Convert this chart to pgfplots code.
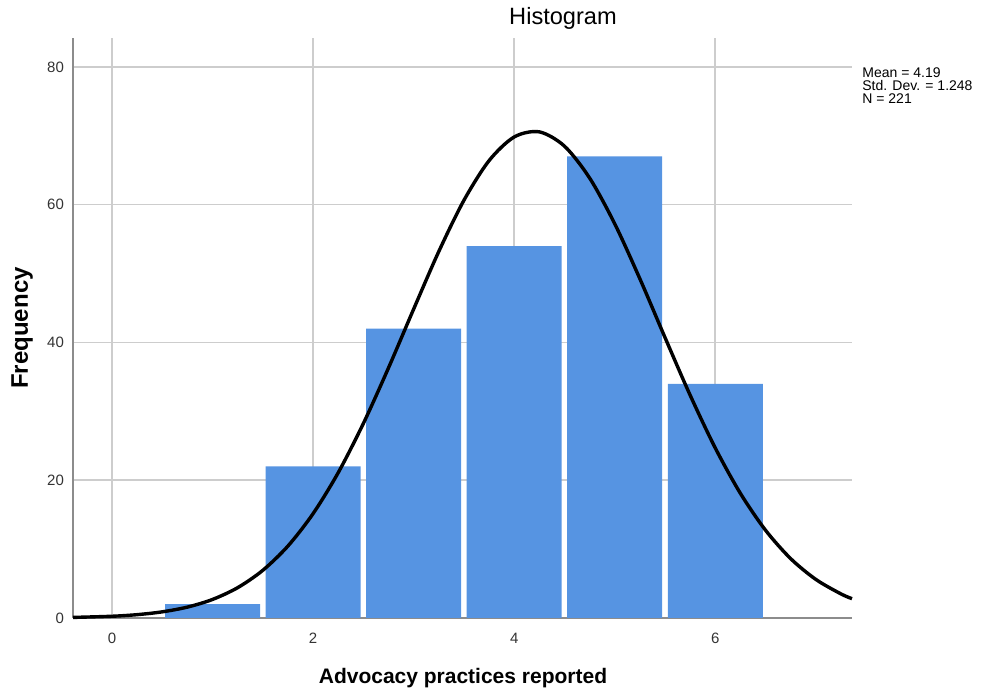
\documentclass[border=0pt]{standalone}
\usepackage{pgfplots}
\pgfplotsset{compat=1.18}
\usepackage{fontspec}
\setmainfont{Liberation Sans}
\definecolor{barblue}{RGB}{86,148,226}
\definecolor{gridgray}{RGB}{205,205,205}
\definecolor{axisgray}{RGB}{140,140,140}
\begin{document}
\begin{tikzpicture}[x=1pt,y=1pt]
\useasboundingbox (-36.5,-38.5) rectangle (454.5,309);
\begin{axis}[
  at={(0,0)}, anchor=south west,
  scale only axis,
  width=389.5pt, height=290pt,
  xmin=-0.388, xmax=7.36,
  ymin=0, ymax=84.2,
  axis x line*=bottom, axis y line*=left,
  axis line style={axisgray, line width=0.6pt, -},
  xtick={0,2,4,6}, ytick={0,20,40,60,80},
  major tick length=0pt,
  grid=major,
  major grid style={gridgray, line width=0.8pt},
  /pgf/number format/assume math mode=true,
  tick label style={font=\fontsize{7.5}{9}\selectfont, text=black!80},
  xticklabel style={yshift=-4pt},
  yticklabel style={xshift=-1pt},
  clip=false,
]
\addplot[ybar, bar width=0.945, fill=barblue, draw=none, forget plot]
  coordinates {(1,2) (2,22) (3,42) (4,54) (5,67) (6,34)};
\addplot[black, line width=1.7pt, smooth, no marks] coordinates {
(-0.388,0.084) (0,0.252) (0.25,0.484) (0.5,0.893) (0.75,1.582) (1,2.693)
(1.25,4.403) (1.5,6.923) (1.75,10.45) (2,15.15) (2.25,21.10) (2.5,28.24)
(2.75,36.31) (3,44.84) (3.25,53.20) (3.5,60.63) (3.75,66.39) (4,69.83)
(4.25,70.57) (4.5,68.50) (4.75,63.88) (5,57.23) (5.25,49.25) (5.5,40.72)
(5.75,32.35) (6,24.68) (6.25,18.09) (6.5,12.74) (6.75,8.616) (7,5.601)
(7.25,3.497) (7.36,2.805)};
\end{axis}
\node[font=\fontsize{11.8}{13}\selectfont] at (245,300) {Histogram};
\node[font=\bfseries\fontsize{10.5}{12}\selectfont] at (195,-30) {Advocacy practices reported};
\node[font=\bfseries\fontsize{12}{13}\selectfont, rotate=90] at (-25.5,145) {Frequency};
\node[anchor=north west, align=left, inner sep=0pt,
      font=\fontsize{7}{6.5}\selectfont] at (394.5,275.5)
  {Mean = 4.19\\Std. Dev. = 1.248\\N = 221};
\end{tikzpicture}
\end{document}
